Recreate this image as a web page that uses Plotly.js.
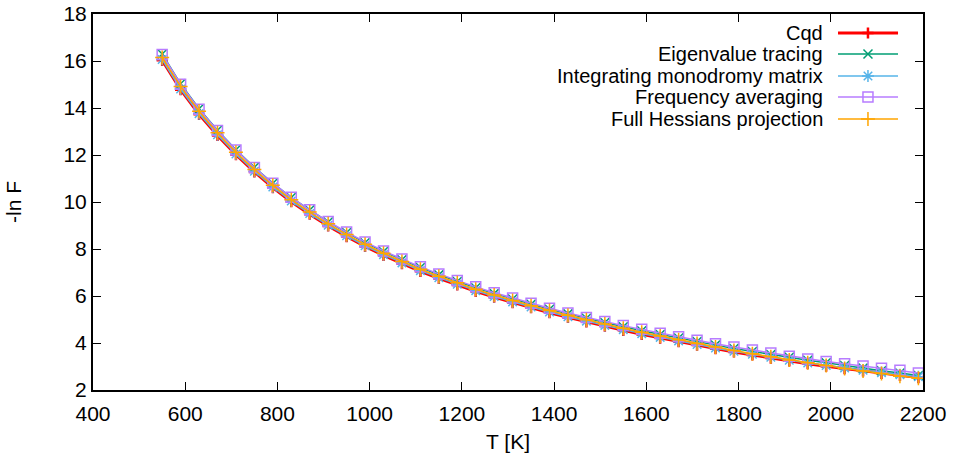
<!DOCTYPE html>
<html>
<head>
<meta charset="utf-8">
<script src="https://cdn.plot.ly/plotly-3.0.1.min.js"></script>
<style>html,body{margin:0;padding:0;background:#fff;}#chart{width:954px;height:462px;}</style>
</head>
<body>
<div id="chart"></div>
<script>
const T = [550,590,630,670,710,750,790,830,870,910,950,990,1030,1070,1110,1150,1190,1230,1270,1310,1350,1390,1430,1470,1510,1550,1590,1630,1670,1710,1750,1790,1830,1870,1910,1950,1990,2030,2070,2110,2150,2190];
const cqd = [16.03,14.78,13.73,12.83,12.01,11.28,10.61,10.01,9.48,8.98,8.53,8.11,7.73,7.38,7.05,6.75,6.47,6.20,5.95,5.72,5.50,5.29,5.09,4.90,4.72,4.54,4.37,4.21,4.06,3.91,3.76,3.62,3.49,3.36,3.24,3.12,3.01,2.91,2.81,2.71,2.62,2.53];
const eigen = [16.30,15.03,13.97,13.05,12.22,11.48,10.80,10.19,9.66,9.15,8.70,8.27,7.89,7.54,7.21,6.90,6.62,6.35,6.10,5.87,5.65,5.44,5.24,5.05,4.87,4.69,4.52,4.36,4.21,4.06,3.91,3.77,3.64,3.51,3.39,3.27,3.16,3.04,2.93,2.82,2.72,2.62];
const monodromy = [16.06,14.81,13.76,12.86,12.04,11.31,10.64,10.04,9.51,9.01,8.56,8.14,7.76,7.41,7.08,6.78,6.50,6.23,5.98,5.75,5.53,5.32,5.12,4.93,4.75,4.57,4.40,4.24,4.09,3.94,3.79,3.65,3.52,3.39,3.27,3.15,3.04,2.94,2.84,2.74,2.65,2.56];
const freqavg = [16.28,15.01,13.95,13.04,12.21,11.47,10.80,10.20,9.67,9.17,8.72,8.30,7.92,7.57,7.24,6.94,6.66,6.39,6.14,5.91,5.69,5.48,5.28,5.09,4.91,4.74,4.58,4.42,4.27,4.12,3.97,3.83,3.70,3.57,3.44,3.32,3.21,3.12,3.02,2.93,2.84,2.72];
const hessians = [16.15,14.92,13.86,12.95,12.12,11.38,10.71,10.10,9.57,9.07,8.62,8.20,7.82,7.47,7.14,6.84,6.56,6.29,6.04,5.81,5.59,5.38,5.18,4.99,4.81,4.63,4.46,4.30,4.14,3.98,3.83,3.68,3.54,3.41,3.28,3.16,3.04,2.92,2.81,2.70,2.59,2.50];
const names = ["Cqd","Eigenvalue tracing","Integrating monodromy matrix","Frequency averaging","Full Hessians projection"];
const xTicks = [400,600,800,1000,1200,1400,1600,1800,2000,2200];
const yTicks = [2,4,6,8,10,12,14,16,18];

const series = [cqd, eigen, monodromy, freqavg, hessians];
const styles = [
  {color:"#ff0000", width:3, symbol:"cross-thin-open", size:8, mw:2.5},
  {color:"#009e73", width:1.5, symbol:"x-thin-open", size:9, mw:1.5},
  {color:"#56b4e9", width:1.5, symbol:"asterisk-open", size:10, mw:1.5},
  {color:"#b77cff", width:1.5, symbol:"square-open", size:10, mw:1.5},
  {color:"#ffa500", width:1.5, symbol:"cross-thin-open", size:10, mw:1.5}
];

const traces = [];
series.forEach((ys, i) => {
  const s = styles[i];
  traces.push({
    x: T, y: ys, type: "scatter", mode: "lines+markers", name: names[i],
    line: {color: s.color, width: s.width},
    marker: {symbol: s.symbol, size: s.size, color: s.color, line: {color: s.color, width: s.mw}},
    showlegend: false, hoverinfo: "skip"
  });
});

// gnuplot-style legend (samples on an overlay axis 0..1)
const legY = [0.9495, 0.8936, 0.8351, 0.7793, 0.7207];
const font = {family: "Liberation Sans, Arial, sans-serif", size: 21, color: "#000"};
const legFont = {family: "Liberation Sans, Arial, sans-serif", size: 20, color: "#000"};
const annotations = [];
series.forEach((ys, i) => {
  const s = styles[i];
  traces.push({
    x: [0.8976, 0.9699], y: [legY[i], legY[i]], xaxis: "x2", yaxis: "y2",
    type: "scatter", mode: "lines", line: {color: s.color, width: s.width},
    showlegend: false, hoverinfo: "skip"
  });
  traces.push({
    x: [0.9337], y: [legY[i]], xaxis: "x2", yaxis: "y2",
    type: "scatter", mode: "markers",
    marker: {symbol: s.symbol, size: s.size, color: s.color, line: {color: s.color, width: s.mw}},
    showlegend: false, hoverinfo: "skip"
  });
  annotations.push({
    xref: "paper", yref: "paper", x: 0.8819, y: legY[i], xanchor: "right", yanchor: "middle",
    text: names[i], showarrow: false, font: legFont
  });
});

const layout = {
  width: 954, height: 462,
  margin: {l: 93, r: 31, t: 14, b: 72, pad: 0},
  paper_bgcolor: "#fff", plot_bgcolor: "#fff",
  font: font,
  showlegend: false,
  xaxis: {
    range: [400, 2200], tickvals: xTicks, ticktext: xTicks.map(String),
    ticks: "inside", ticklen: 8, tickwidth: 1, tickcolor: "#000",
    showline: true, linecolor: "#000", linewidth: 2, mirror: "ticks",
    showgrid: false, zeroline: false, ticklabelstandoff: 4,
    tickfont: font,
    title: {text: "T [K]", font: font, standoff: 10}
  },
  yaxis: {
    range: [2, 18], tickvals: yTicks, ticktext: yTicks.map(String),
    ticks: "inside", ticklen: 8, tickwidth: 1, tickcolor: "#000",
    showline: true, linecolor: "#000", linewidth: 2, mirror: "ticks",
    showgrid: false, zeroline: false,
    tickfont: font,
    title: {text: "-ln F", font: font, standoff: 36}
  },
  xaxis2: {overlaying: "x", range: [0, 1], visible: false, fixedrange: true},
  yaxis2: {overlaying: "y", range: [0, 1], visible: false, fixedrange: true},
  annotations: annotations
};

Plotly.newPlot("chart", traces, layout, {staticPlot: true, displayModeBar: false});
</script>
</body>
</html>
